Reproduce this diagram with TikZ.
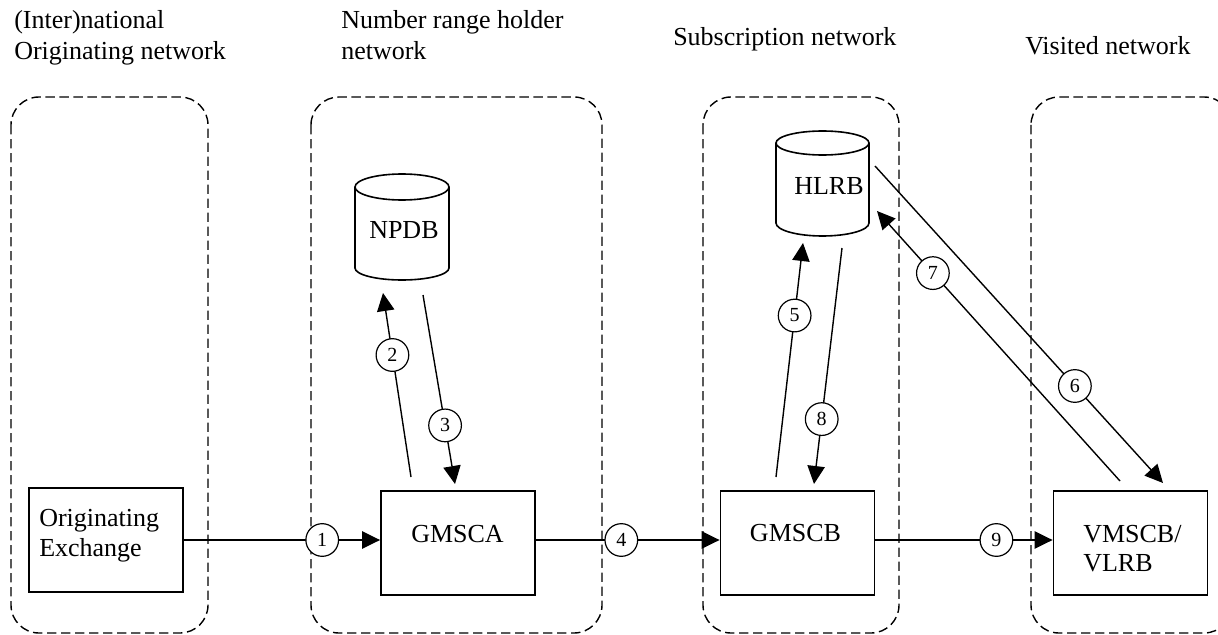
\documentclass[tikz,border=0pt]{standalone}
\usepackage{fontspec}
\setmainfont{Liberation Serif}
\usetikzlibrary{arrows.meta}
\begin{document}
\begin{tikzpicture}[x=0.75pt,y=-0.75pt,
  region/.style={draw, line width=1.05pt, dash pattern=on 7pt off 3.5pt, rounded corners=21pt},
  box/.style={draw, line width=1.4pt, minimum width=115.5pt, minimum height=78pt, inner sep=0pt},
  lbl/.style={font=\fontsize{19.5}{23}\selectfont, inner sep=0pt},
  conn/.style={line width=1.05pt, -{Triangle[length=13.5pt,width=13pt]}},
  num/.style={circle, draw, fill=white, line width=0.9pt, minimum size=24.5pt, inner sep=0pt, font=\fontsize{15}{15}\selectfont},
  db/.style={line width=1.2pt}]
\useasboundingbox (0,0) rectangle (1218,635);
\clip (0,0) rectangle (1218,635);

% headers
\node[lbl, anchor=base west] (h1a) at (14,29) {(Inter)national};
\node[lbl, anchor=base west] (h1b) at (14,60) {Originating network};
\node[lbl, anchor=base west] (h2a) at (341,29) {Number range holder};
\node[lbl, anchor=base west] (h2b) at (341,60) {network};
\node[lbl, anchor=base west] (h3) at (673,46) {Subscription network};
\node[lbl, anchor=base west] (h4) at (1025,55) {Visited network};

% regions
\draw[region] (11,97) rectangle (208,633);
\draw[region] (311,97) rectangle (602,633);
\draw[region] (703,97) rectangle (899,633);
\draw[region] (1031,97) rectangle (1232,633);

% boxes
\node[box] (orig) at (106,540) {};
\node[lbl, anchor=base west] (origt1) at (39,526) {Originating};
\node[lbl, anchor=base west] (origt2) at (39,556) {Exchange};
\node[box] (gmsca) at (458,543) {};
\node[lbl, anchor=base] (gmscat) at (457.5,542) {GMSCA};
\node[box] (gmscb) at (797.5,543) {};
\node[lbl, anchor=base] (gmscbt) at (795.5,541) {GMSCB};
\node[box] (vmscb) at (1130.5,543) {};
\node[lbl, anchor=base west] (vmscbt1) at (1083,542) {VMSCB/};
\node[lbl, anchor=base west] (vmscbt2) at (1083,571) {VLRB};

% databases
\draw[db] (402,187) ellipse [x radius=47, y radius=13];
\draw[db] (355,187) -- (355,268) arc[start angle=180, end angle=0, x radius=47, y radius=12] -- (449,187);
\node[lbl, anchor=base west] (npdb) at (369,238) {NPDB};
\draw[db] (822.5,143) ellipse [x radius=46.5, y radius=12];
\draw[db] (776,143) -- (776,223) arc[start angle=180, end angle=0, x radius=46.5, y radius=13] -- (869,143);
\node[lbl, anchor=base west] (hlrb) at (794,194) {HLRB};

% connector end points
\coordinate (a2s) at (411,477); \coordinate (a2e) at (383,293);
\coordinate (a3s) at (423,295); \coordinate (a3e) at (455,484);
\coordinate (a5s) at (776,477); \coordinate (a5e) at (803,243);
\coordinate (a8s) at (842,248); \coordinate (a8e) at (814,484);
\coordinate (a7s) at (1120,481); \coordinate (a7e) at (877,211);
\coordinate (a6s) at (875,166); \coordinate (a6e) at (1163,483);

% connectors
\draw[conn] (orig.east) -- node[num,pos=.705]{1} (orig.east -| gmsca.west);
\draw[conn] (gmsca.east |- orig.east) -- node[num,pos=.465]{4} (orig.east -| gmscb.west);
\draw[conn] (gmscb.east |- orig.east) -- node[num,pos=.683]{9} (orig.east -| vmscb.west);
\draw[conn] (a2s) -- node[num,pos=.663]{2} (a2e);
\draw[conn] (a3s) -- node[num,pos=.69]{3} (a3e);
\draw[conn] (a5s) -- node[num,pos=.69]{5} (a5e);
\draw[conn] (a8s) -- node[num,pos=.725]{8} (a8e);
\draw[conn] (a7s) -- node[num,pos=.77]{7} (a7e);
\draw[conn] (a6s) -- node[num,pos=.694]{6} (a6e);
\end{tikzpicture}
\end{document}
